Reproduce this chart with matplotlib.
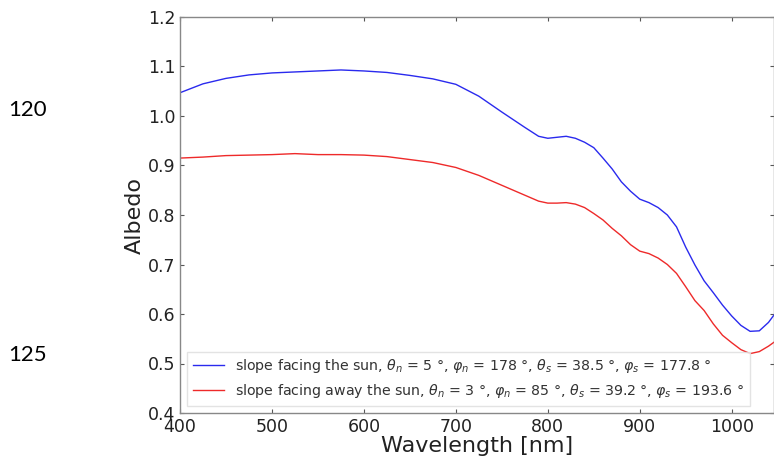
import matplotlib
matplotlib.use("Agg")
import matplotlib.pyplot as plt

wavelength = [400, 425, 450, 475, 500, 525, 550, 575, 600, 625, 650, 675, 700, 725, 750,
              775, 790, 800, 810, 820, 830, 840, 850, 860, 870, 880, 890, 900, 910, 920,
              930, 940, 950, 960, 970, 980, 990, 1000, 1010, 1020, 1030, 1040, 1046]

albedo_sun = [1.047, 1.065, 1.076, 1.083, 1.087, 1.089, 1.091, 1.093, 1.091, 1.088, 1.082,
              1.075, 1.064, 1.040, 1.008, 0.977, 0.959, 0.955, 0.957, 0.959, 0.955, 0.947,
              0.936, 0.915, 0.893, 0.867, 0.848, 0.832, 0.825, 0.815, 0.800, 0.776, 0.735,
              0.699, 0.667, 0.643, 0.618, 0.596, 0.577, 0.565, 0.566, 0.583, 0.598]

albedo_away = [0.915, 0.917, 0.920, 0.921, 0.922, 0.924, 0.922, 0.922, 0.921, 0.918, 0.912,
               0.906, 0.896, 0.880, 0.860, 0.840, 0.828, 0.824, 0.824, 0.825, 0.822, 0.815,
               0.803, 0.790, 0.773, 0.758, 0.740, 0.727, 0.722, 0.713, 0.700, 0.682, 0.655,
               0.627, 0.607, 0.580, 0.557, 0.542, 0.528, 0.520, 0.524, 0.535, 0.543]

label_sun = r"slope facing the sun, $\theta_n$ = 5 °, $\varphi_n$ = 178 °, $\theta_s$ = 38.5 °, $\varphi_s$ = 177.8 °"
label_away = r"slope facing away the sun, $\theta_n$ = 3 °, $\varphi_n$ = 85 °, $\theta_s$ = 39.2 °, $\varphi_s$ = 193.6 °"

xticks = [400, 500, 600, 700, 800, 900, 1000]
yticks = [0.4, 0.5, 0.6, 0.7, 0.8, 0.9, 1.0, 1.1, 1.2]
line_numbers = ["120", "125"]

plt.rcParams['mathtext.fontset'] = 'dejavusans'

fig = plt.figure(figsize=(7.74, 4.61), dpi=100)
ax = fig.add_axes([180/774, 1 - 413/461, 594/774, (413 - 17)/461])

ax.plot(wavelength, albedo_sun, color='#2a2aee', lw=1.0, label=label_sun)
ax.plot(wavelength, albedo_away, color='#ee2a2a', lw=1.0, label=label_away)

ax.set_xlim(400, 1046)
ax.set_ylim(0.4, 1.2)
ax.set_xticks(xticks)
ax.set_yticks(yticks)
ax.set_yticklabels([f"{v:.1f}" for v in yticks])
ax.tick_params(direction='in', top=True, right=True, labelsize=12.5, length=3,
               color='#555555', labelcolor='#222222')
for s in ax.spines.values():
    s.set_color('#888888')
    s.set_linewidth(1.0)

ax.set_xlabel("Wavelength [nm]", fontsize=16, labelpad=0, color='#222222')
ax.set_ylabel("Albedo", fontsize=16, labelpad=2, color='#222222')

leg = ax.legend(loc='lower left', fontsize=10.2, frameon=True, fancybox=False,
                borderaxespad=0.5, handlelength=2.2, labelcolor='#333333')
leg.get_frame().set_edgecolor('#dddddd')
leg.get_frame().set_linewidth(1.0)

fig.text(8/774, 1 - 110/461, line_numbers[0], fontsize=16, family='Lato', va='center', ha='left')
fig.text(8/774, 1 - 355/461, line_numbers[1], fontsize=16, family='Lato', va='center', ha='left')

fig.savefig("out.png", dpi=100)
